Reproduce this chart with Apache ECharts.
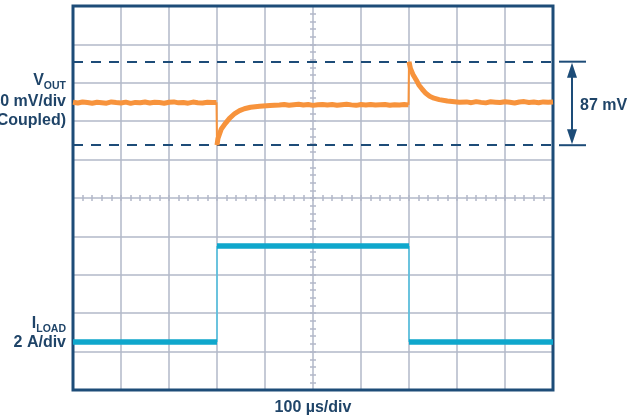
<!DOCTYPE html>
<html>
<head>
<meta charset="utf-8">
<script src="https://cdn.jsdelivr.net/npm/echarts@6/dist/echarts.min.js"></script>
<style>
  html, body { margin: 0; padding: 0; background: #ffffff; }
  #chart { width: 639px; height: 420px; }
</style>
</head>
<body>
<div id="chart"></div>
<script>
// Load transient: output voltage (AC coupled) and load current step

// time base, µs (100 µs/div, 10 divisions)
const timeRangeUs = [0, 1000];
const timeDivUs = 100;

// VOUT deviation, mV (AC coupled)
const voutTimeUs = [
  0, 10, 20, 30, 40, 50, 60, 70, 80, 90, 100, 110, 120, 130, 140, 150, 160, 170, 180, 190,
  200, 210, 220, 230, 240, 250, 260, 270, 280, 290, 299,
  300, 302, 309, 318, 326, 337, 347, 357, 370, 389, 410, 430,
  440, 450, 460, 470, 480, 490, 500, 510, 520, 530, 540, 550, 560, 570, 580, 590,
  600, 610, 620, 630, 640, 650, 660, 670, 680, 690, 699,
  700, 703, 708, 715, 721, 728, 735, 743, 752, 763, 780, 805,
  820, 830, 840, 850, 860, 870, 880, 890, 900, 910, 920, 930, 940, 950, 960, 970, 980, 990, 1000
];
const voutMv = [
  -0.3, -1.1, 0.0, -0.6, -1.3, -0.2, -0.7, -1.2, 0.1, -0.5, -1.0, -0.1, -1.4, -0.4, -0.8, 0.0, -1.1, -0.3, -0.6, -1.3,
  -0.2, 0.1, -0.9, -0.5, -1.2, -0.1, -0.7, -1.0, -0.3, -0.5, -0.4,
  -45, -38, -28, -22, -17, -12, -9, -7, -5.5, -4.5, -3.6, -3.1,
  -2.6, -3.4, -2.8, -2.3, -3.2, -2.7, -3.5, -2.9, -2.5, -3.1, -2.6, -3.3, -2.8, -2.4, -3.0, -3.5,
  -2.7, -3.1, -2.5, -3.2, -2.9, -2.6, -3.4, -2.8, -3.1, -2.7, -3.0,
  42, 35, 29, 23, 17.5, 13, 9, 6, 4, 2.5, 1.0, -0.2,
  0.1, -0.7, 0.4, -0.4, -0.9, 0.2, -0.2, -0.6, 0.3, -0.3, -1.0, 0.0, 0.4, -0.5, -0.1, -0.8, 0.1, -0.3, 0.0
];

// ILOAD, A
const iloadTimeUs = [0, 300, 300, 700, 700, 1000];
const iloadA = [0.5, 0.5, 5.5, 5.5, 0.5, 0.5];

// measured VOUT excursion limits, mV
const voutPeakMv = 42;
const voutDipMv = -45;

// scope screen scaling
const voutRangeMv = [-300, 100];   // 40 mV/div
const iloadRangeA = [-2, 18];      // 2 A/div
const iloadDivA = 2;

const NAVY = '#1d4c78';
const TEXT = '#1f4468';
const GRID = '#b2b8c9';
const ORANGE = '#f7933c';
const CYAN = '#0fa7cc';
const FONT = '"Liberation Sans", Arial, Helvetica, sans-serif';

// split a step trace into flat/curved parts (thick) and vertical edges (thin)
function splitSteps(ts, vs, gap) {
  const body = [], edges = [];
  for (let i = 0; i < ts.length; i++) {
    if (i > 0 && ts[i] - ts[i - 1] <= gap) {
      body.push('-');
      if (edges.length) edges.push('-');
      edges.push([ts[i - 1], vs[i - 1]], [ts[i], vs[i]]);
    }
    body.push([ts[i], vs[i]]);
  }
  return { body, edges };
}

const vout = splitSteps(voutTimeUs, voutMv, 1);
const iload = splitSteps(iloadTimeUs, iloadA, 0);

const chart = echarts.init(document.getElementById('chart'), null, { renderer: 'canvas' });

const tickStyle = { color: GRID, width: 1.5 };
const tickAxisX = (inside) => ({
  type: 'value', min: timeRangeUs[0], max: timeRangeUs[1], interval: timeDivUs,
  position: 'bottom', offset: -192,
  axisLine: { show: false },
  axisLabel: { show: false },
  splitLine: { show: false },
  axisTick: { show: true, inside, length: 3, lineStyle: tickStyle },
  minorTick: { show: true, splitNumber: 5, length: 3, lineStyle: tickStyle }
});
const tickAxisY = (inside) => ({
  type: 'value', min: iloadRangeA[0], max: iloadRangeA[1], interval: iloadDivA,
  position: 'left', offset: -240,
  axisLine: { show: false },
  axisLabel: { show: false },
  splitLine: { show: false },
  axisTick: { show: true, inside, length: 3, lineStyle: tickStyle },
  minorTick: { show: true, splitNumber: 5, length: 3, lineStyle: tickStyle }
});

chart.setOption({
  animation: false,
  backgroundColor: '#ffffff',
  grid: {
    left: 73, top: 6, width: 480, height: 384, z: 4,
    show: true, borderColor: NAVY, borderWidth: 3, backgroundColor: 'transparent'
  },
  xAxis: [
    {
      type: 'value', min: timeRangeUs[0], max: timeRangeUs[1], interval: timeDivUs,
      axisLine: { show: false }, axisTick: { show: false }, axisLabel: { show: false },
      splitLine: { show: true, lineStyle: { color: GRID, width: 1.5 } }
    },
    tickAxisX(true),
    tickAxisX(false)
  ],
  yAxis: [
    {
      type: 'value', min: voutRangeMv[0], max: voutRangeMv[1],
      axisLine: { show: false }, axisTick: { show: false }, axisLabel: { show: false },
      splitLine: { show: false }
    },
    {
      type: 'value', min: iloadRangeA[0], max: iloadRangeA[1], interval: iloadDivA,
      axisLine: { show: false }, axisTick: { show: false }, axisLabel: { show: false },
      splitLine: { show: true, lineStyle: { color: GRID, width: 1.5 } }
    },
    tickAxisY(true),
    tickAxisY(false)
  ],
  series: [
    {
      name: 'VOUT', type: 'line', xAxisIndex: 0, yAxisIndex: 0,
      data: vout.body, showSymbol: false, connectNulls: false,
      lineStyle: { color: ORANGE, width: 5 }, z: 5,
      markLine: {
        silent: true, symbol: 'none', label: { show: false },
        lineStyle: { color: NAVY, width: 2, type: [10, 8] },
        data: [{ yAxis: voutPeakMv }, { yAxis: voutDipMv }]
      }
    },
    {
      name: 'VOUT edge', type: 'line', xAxisIndex: 0, yAxisIndex: 0,
      data: vout.edges, showSymbol: false, connectNulls: false,
      lineStyle: { color: ORANGE, width: 2 }, z: 5
    },
    {
      name: 'ILOAD', type: 'line', xAxisIndex: 0, yAxisIndex: 1,
      data: iload.body, showSymbol: false, connectNulls: false,
      lineStyle: { color: CYAN, width: 5.5 }, z: 5
    },
    {
      name: 'ILOAD edge', type: 'line', xAxisIndex: 0, yAxisIndex: 1,
      data: iload.edges, showSymbol: false, connectNulls: false,
      lineStyle: { color: '#4cc0e0', width: 1.5 }, z: 4
    }
  ]
});

// annotation layer: channel labels, time base and the excursion marker
const ctx = document.createElement('canvas').getContext('2d');
function textWidth(str, size) {
  ctx.font = 'bold ' + size + 'px ' + FONT;
  return ctx.measureText(str).width;
}
const MAIN = 16, SUB = 10.5;
const labelRight = 66;

function subscripted(main, sub, yMid) {
  const subW = textWidth(sub, SUB);
  return [
    { type: 'text', x: labelRight - subW, y: yMid,
      style: { text: main, align: 'right', verticalAlign: 'middle',
               font: 'bold ' + MAIN + 'px ' + FONT, fill: TEXT } },
    { type: 'text', x: labelRight, y: yMid + 5,
      style: { text: sub, align: 'right', verticalAlign: 'middle',
               font: 'bold ' + SUB + 'px ' + FONT, fill: TEXT } }
  ];
}
function plain(str, x, y, align) {
  return { type: 'text', x, y,
    style: { text: str, align: align || 'right', verticalAlign: 'middle',
             font: 'bold ' + MAIN + 'px ' + FONT, fill: TEXT } };
}

const yPeak = chart.convertToPixel({ yAxisIndex: 0 }, voutPeakMv);
const yDip = chart.convertToPixel({ yAxisIndex: 0 }, voutDipMv);
const xRight = chart.convertToPixel({ xAxisIndex: 0 }, timeRangeUs[1]);
const xMid = chart.convertToPixel({ xAxisIndex: 0 }, (timeRangeUs[0] + timeRangeUs[1]) / 2);
const ax = xRight + 19;
const headLen = 16, headHalf = 5;

const graphics = [].concat(
  subscripted('V', 'OUT', 81),
  [plain('40 mV/div', labelRight, 102), plain('(AC Coupled)', labelRight, 121)],
  subscripted('I', 'LOAD', 324),
  [plain('2 A/div', labelRight, 343)],
  [plain('100 µs/div', xMid, 408, 'center')],
  [
    { type: 'line', shape: { x1: xRight + 6, y1: yPeak, x2: xRight + 33, y2: yPeak },
      style: { stroke: NAVY, lineWidth: 2 } },
    { type: 'line', shape: { x1: xRight + 6, y1: yDip, x2: xRight + 33, y2: yDip },
      style: { stroke: NAVY, lineWidth: 2 } },
    { type: 'line', shape: { x1: ax, y1: yPeak + 4, x2: ax, y2: yDip - 4 },
      style: { stroke: NAVY, lineWidth: 2 } },
    { type: 'polygon', shape: { points: [[ax, yPeak + 1], [ax - headHalf, yPeak + headLen], [ax + headHalf, yPeak + headLen]] },
      style: { fill: NAVY } },
    { type: 'polygon', shape: { points: [[ax, yDip - 1], [ax - headHalf, yDip - headLen], [ax + headHalf, yDip - headLen]] },
      style: { fill: NAVY } },
    plain(Math.round(voutPeakMv - voutDipMv) + ' mV', ax + 8, (yPeak + yDip) / 2 + 2, 'left')
  ]
);

chart.setOption({ graphic: graphics });
</script>
</body>
</html>
